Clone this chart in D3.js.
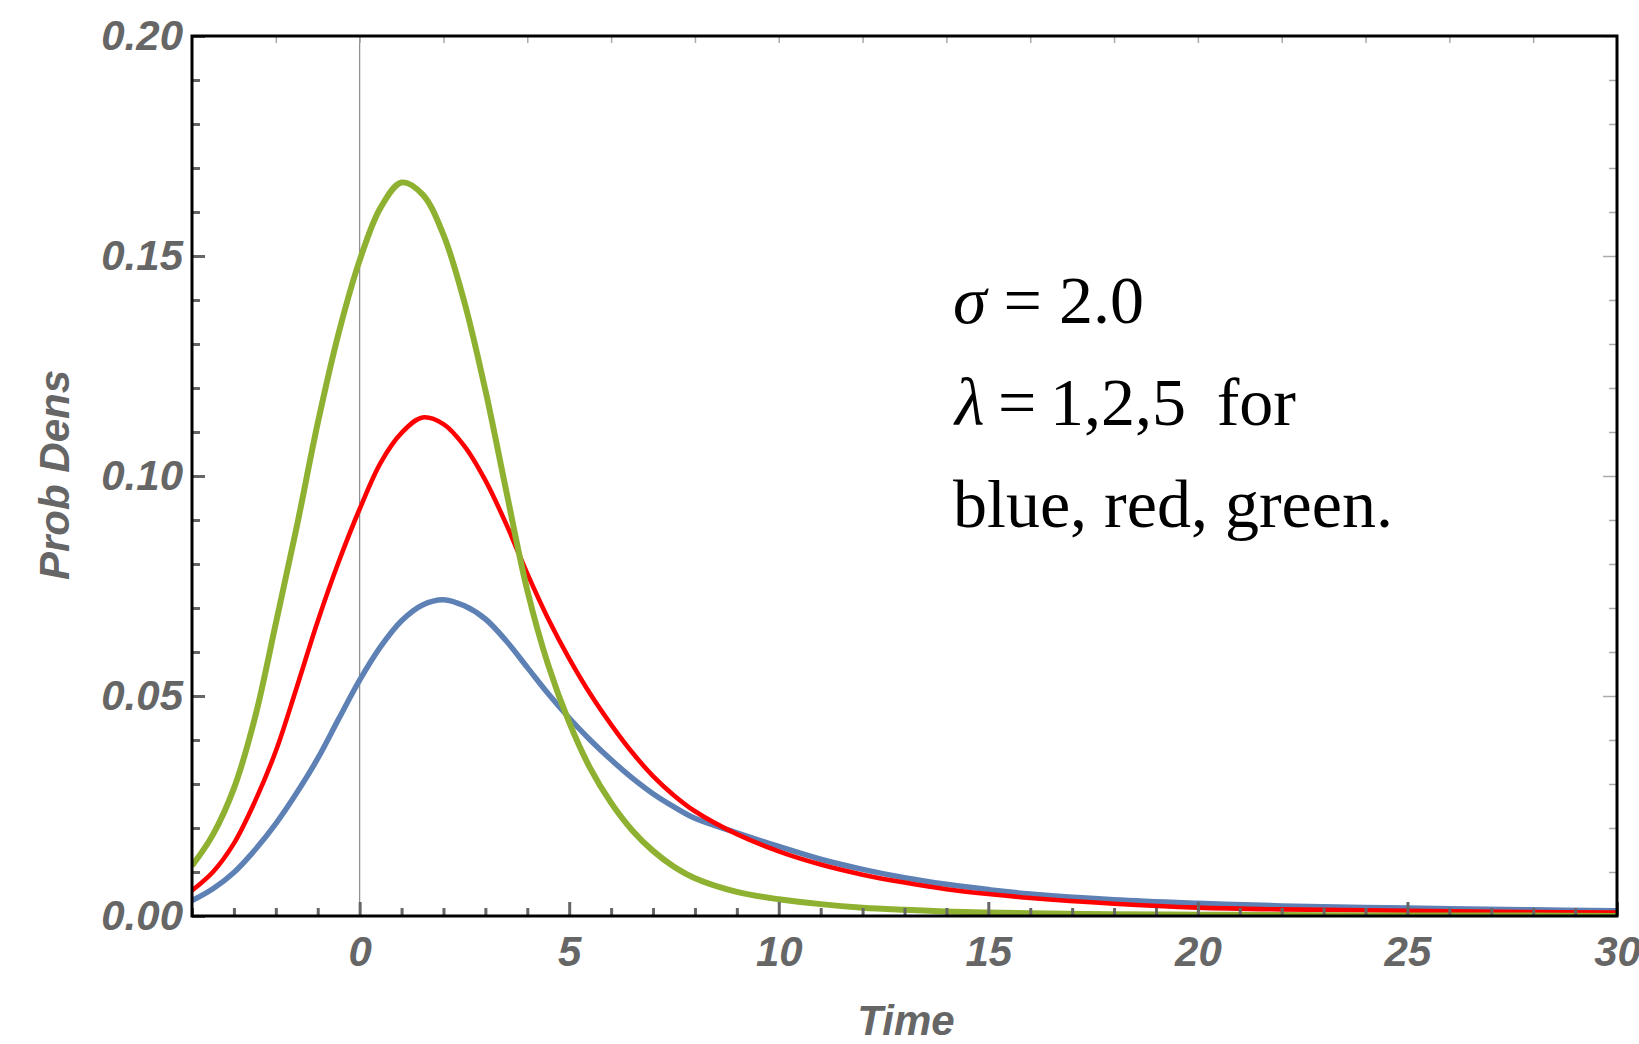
<!DOCTYPE html>
<meta charset="utf-8">
<style>
  body { margin: 0; background: #fff; }
  .lab text { font-family: "Liberation Sans", Arial, sans-serif; font-weight: bold; font-style: italic; font-size: 42px; fill: #666; }
  .note { font-family: "Liberation Serif", "Times New Roman", serif; font-size: 68px; fill: #000; }
</style>
<svg width="1639" height="1044"></svg>
<script src="https://d3js.org/d3.v7.min.js"></script>
<script>

  // time points
  var times = [-4, -3.5, -3, -2.5, -2, -1.5, -1, -0.5, 0, 0.5, 1, 1.5, 2, 2.5, 3, 3.5, 4, 4.5, 5, 5.5, 6, 6.5, 7, 7.5, 8, 9, 10, 11, 12, 13, 14, 15, 16, 18, 20, 22, 25, 28, 30];

  // lambda = 1 (blue)
  var blueVals = [0.0035, 0.0062, 0.0099, 0.0150, 0.0210, 0.0280, 0.0358, 0.0448, 0.0536, 0.0612, 0.0671, 0.0707, 0.0719, 0.0705, 0.0675, 0.0625, 0.0565, 0.0505, 0.0450, 0.0400, 0.0355, 0.0314, 0.0278, 0.0248, 0.0222, 0.0189, 0.0158, 0.0129, 0.0106, 0.0087, 0.0072, 0.0060, 0.0050, 0.0037, 0.0029, 0.0023, 0.0018, 0.0014, 0.0012];
  // lambda = 2 (red)
  var redVals = [0.0058, 0.0100, 0.0165, 0.0260, 0.0375, 0.0520, 0.0670, 0.0805, 0.0925, 0.1030, 0.1098, 0.1133, 0.1118, 0.1068, 0.0990, 0.0890, 0.0778, 0.0675, 0.0585, 0.0505, 0.0435, 0.0372, 0.0318, 0.0274, 0.0238, 0.0186, 0.0147, 0.0117, 0.0094, 0.0076, 0.0061, 0.0050, 0.0041, 0.0028, 0.0019, 0.0015, 0.0012, 0.0009, 0.0008];
  // lambda = 5 (green)
  var greenVals = [0.0114, 0.0185, 0.0290, 0.0450, 0.0665, 0.0885, 0.1120, 0.1325, 0.1490, 0.1610, 0.1667, 0.1640, 0.1548, 0.1395, 0.1195, 0.0965, 0.0740, 0.0570, 0.0440, 0.0336, 0.0257, 0.0195, 0.0148, 0.0112, 0.0086, 0.0055, 0.0038, 0.0027, 0.0019, 0.0014, 0.0010, 0.0008, 0.0006, 0.0004, 0.0003, 0.0002, 0.0001, 0.0001, 0.0000];

  var xMajor = [0, 5, 10, 15, 20, 25, 30];
  var yMajor = [0, 0.05, 0.10, 0.15, 0.20];
  var noteLines = ["σ", "λ", "blue, red, green."];

  var svg = d3.select("svg"),
    margin = { top: 36, right: 22, bottom: 128, left: 192 },
    width = +svg.attr("width") - margin.left - margin.right,
    height = +svg.attr("height") - margin.top - margin.bottom;

  var x = d3.scaleLinear().domain([-4, 30]).range([0, width]);
  var y = d3.scaleLinear().domain([0, 0.2]).range([height, 0]);

  var g = svg.append("g").attr("transform", "translate(" + margin.left + "," + margin.top + ")");

  g.append("clipPath").attr("id", "clip")
    .append("rect").attr("width", width).attr("height", height);

  // axis line at t = 0
  g.append("line")
    .attr("x1", x(0)).attr("x2", x(0))
    .attr("y1", 0).attr("y2", height)
    .attr("stroke", "#8a8a8a").attr("stroke-width", 1.2);

  var series = [
    { vals: blueVals, color: "#5E81B5", w: 5.5 },
    { vals: redVals, color: "#FF0000", w: 4.6 },
    { vals: greenVals, color: "#8FB131", w: 6 }
  ];

  var line = d3.line()
    .x(function (d) { return x(d[0]); })
    .y(function (d) { return y(d[1]); })
    .curve(d3.curveCatmullRom.alpha(0.5));

  g.append("g").attr("clip-path", "url(#clip)")
    .selectAll("path")
    .data(series)
    .enter().append("path")
    .attr("fill", "none")
    .attr("stroke", function (d) { return d.color; })
    .attr("stroke-width", function (d) { return d.w; })
    .attr("stroke-linejoin", "round")
    .attr("d", function (d) { return line(times.map(function (t, i) { return [t, d.vals[i]]; })); });

  // minor / major ticks
  var xMinor = d3.range(-4, 31, 1).filter(function (t) { return xMajor.indexOf(t) < 0; });
  var yMinor = d3.range(0, 21, 1).map(function (k) { return k / 100; })
    .filter(function (v) { return yMajor.every(function (m) { return Math.abs(m - v) > 1e-9; }); });
  var xTop = d3.range(-2, 30, 2);

  function styleTicks(sel, color, w) {
    sel.select(".domain").remove();
    sel.selectAll(".tick line").attr("stroke", color).attr("stroke-width", w);
  }

  g.append("g").attr("transform", "translate(0," + height + ")")
    .call(d3.axisBottom(x).tickValues(xMinor).tickSize(-8).tickFormat(""))
    .call(styleTicks, "#666", 3);
  g.append("g").attr("class", "lab").attr("transform", "translate(0," + height + ")")
    .call(d3.axisBottom(x).tickValues(xMajor).tickSize(-14).tickPadding(20).tickFormat(d3.format("d")))
    .call(styleTicks, "#666", 3)
    .selectAll("text").attr("fill", null);

  g.append("g")
    .call(d3.axisLeft(y).tickValues(yMinor).tickSize(-8).tickFormat(""))
    .call(styleTicks, "#666", 3);
  g.append("g").attr("class", "lab")
    .call(d3.axisLeft(y).tickValues(yMajor).tickSize(-13).tickPadding(9).tickFormat(d3.format(".2f")))
    .call(styleTicks, "#666", 3)
    .selectAll("text").attr("fill", null);

  g.append("g")
    .call(d3.axisTop(x).tickValues(xTop).tickSize(-7).tickFormat(""))
    .call(styleTicks, "#aaa", 1.5);
  g.append("g").attr("transform", "translate(" + width + ",0)")
    .call(d3.axisRight(y).tickValues(yMinor).tickSize(-8).tickFormat(""))
    .call(styleTicks, "#aaa", 1.5);
  g.append("g").attr("transform", "translate(" + width + ",0)")
    .call(d3.axisRight(y).tickValues(yMajor).tickSize(-14).tickFormat(""))
    .call(styleTicks, "#aaa", 1.5);

  // frame
  g.append("rect")
    .attr("width", width).attr("height", height)
    .attr("fill", "none").attr("stroke", "#000").attr("stroke-width", 3);

  // axis titles
  var lab = svg.append("g").attr("class", "lab");
  lab.append("text")
    .attr("x", 906).attr("y", 1035)
    .attr("text-anchor", "middle")
    .text("Time");
  lab.append("text")
    .attr("transform", "translate(69,475) rotate(-90)")
    .attr("text-anchor", "middle")
    .text("Prob Dens");

  // annotation
  var t1 = svg.append("text").attr("class", "note").attr("x", 953).attr("y", 323);
  t1.append("tspan").attr("font-style", "italic").text(noteLines[0]);
  t1.append("tspan").text(" = 2.0");

  var t2 = svg.append("text").attr("class", "note").attr("x", 955).attr("y", 425);
  t2.append("tspan").attr("font-style", "italic").text(noteLines[1]);
  t2.append("tspan").text("\u2009=\u20091,2,5 \u2009for");

  svg.append("text").attr("class", "note").attr("x", 953).attr("y", 527).text(noteLines[2]);

</script>
